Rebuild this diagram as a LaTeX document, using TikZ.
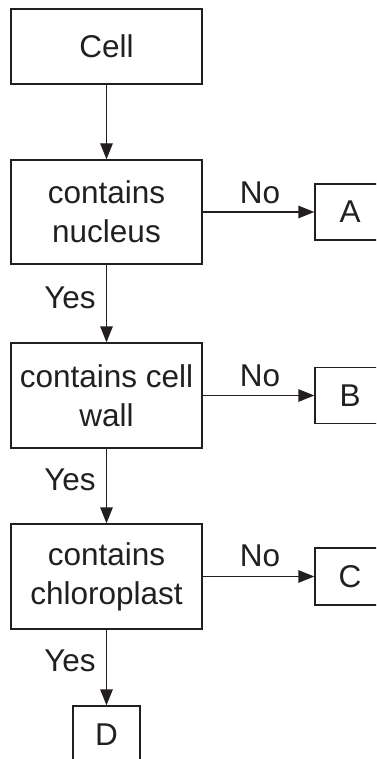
\documentclass[tikz,border=0pt]{standalone}
\usepackage{fontspec}
\setmainfont{Liberation Sans}
\usetikzlibrary{arrows.meta}
\definecolor{ink}{RGB}{35,31,32}
\begin{document}
\begin{tikzpicture}[x=1pt,y=-1pt,
  every node/.style={font=\fontsize{31.5}{39}\selectfont, text=ink},
  box/.style={draw=ink, line width=1.4pt, align=center, inner sep=0pt},
  bigbox/.style={box, minimum width=191pt},
  smallbox/.style={box, minimum width=70pt, minimum height=56pt},
  arr/.style={draw=ink, line width=1.4pt, -{Triangle[length=16pt,width=12.5pt]}},
  lbl/.style={anchor=base, inner sep=0pt}]
\path[use as bounding box, clip] (0,0) rectangle (376,759);
\node[bigbox, minimum height=75pt] (cell) at (106.5,46.5) {Cell};
\node[bigbox, minimum height=104pt] (nuc) at (106.5,212) {contains\\nucleus};
\node[bigbox, minimum height=105pt] (wall) at (106.5,395.5) {contains cell\\wall};
\node[bigbox, minimum height=105pt] (chl) at (106.5,576.5) {contains\\chloroplast};
\node[smallbox] (A) at (350,212) {A};
\node[smallbox] (B) at (350,395.5) {B};
\node[smallbox, minimum height=57pt] (C) at (350,576.5) {C};
\node[box, minimum width=67pt, minimum height=58pt] (D) at (106.5,735) {D};
\draw[arr] (cell) -- (nuc);
\draw[arr] (nuc) -- (wall);
\draw[arr] (wall) -- (chl);
\draw[arr] (chl) -- (D);
\draw[arr] (nuc) -- (A);
\draw[arr] (wall) -- (B);
\draw[arr] (chl) -- (C);
\node[lbl] (y1) at (70,308) {Yes};
\node[lbl] (y2) at (70,490) {Yes};
\node[lbl] (y3) at (70,671.5) {Yes};
\node[lbl] (n1) at (260,203.3) {No};
\node[lbl] (n2) at (260,386.7) {No};
\node[lbl] (n3) at (260,566.7) {No};
\end{tikzpicture}
\end{document}
